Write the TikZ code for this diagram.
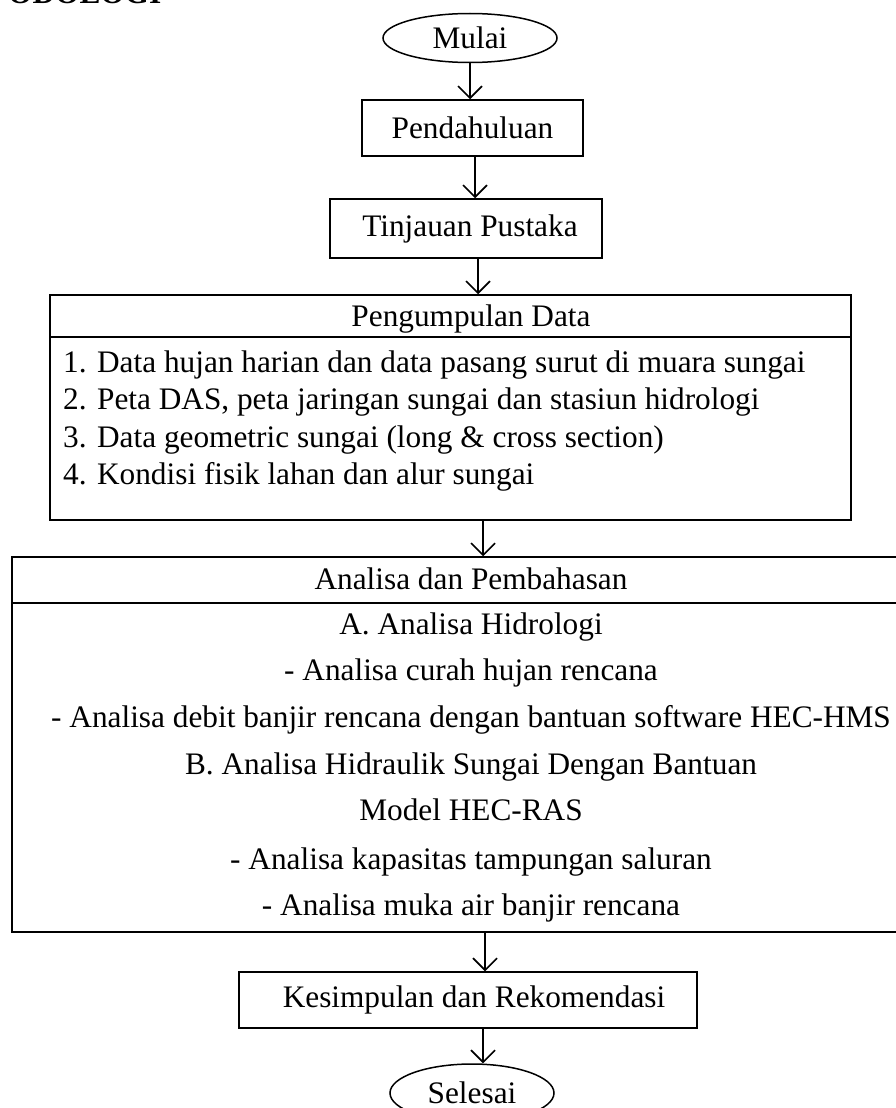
\documentclass[tikz,border=0pt]{standalone}
\usepackage{fontspec}
\setmainfont{Liberation Serif}
\usetikzlibrary{arrows.meta,shapes.geometric}
\begin{document}
\begin{tikzpicture}[x=1pt,y=-1pt,
  every node/.style={font=\fontsize{31.3pt}{37pt}\selectfont, inner sep=0pt},
  box/.style={draw, line width=1.5pt, rectangle},
  oval/.style={draw, line width=1.5pt, ellipse},
  txt/.style={anchor=base},
  item/.style={anchor=base west},
  arr/.style={line width=1.6pt, -{Straight Barb[length=12pt,width=24pt]}},
  rule/.style={line width=1.5pt}]
\clip (0,0) rectangle (896,1108);
\node[font=\bfseries\fontsize{31.3pt}{37pt}\selectfont, anchor=base west] (head) at (8,3.5) {ODOLOGI};

\node[oval, minimum width=174pt, minimum height=49pt] (mulai) at (470,38) {Mulai};
\node[box, minimum width=221pt, minimum height=56pt] (pend) at (472.5,128) {Pendahuluan};
\node[box, minimum width=272pt, minimum height=59pt] (tinj) at (466,228.5) {\hspace*{8pt}Tinjauan Pustaka};

\node[box, minimum width=801pt, minimum height=225pt] (peng) at (450.5,407.5) {};
\draw[rule] (peng.west |- 0,337) -- (peng.east |- 0,337);
\node[txt] (pengh) at (471,326) {Pengumpulan Data};
\node[item] (p1) at (63,372) {1. Data hujan harian dan data pasang surut di muara sungai};
\node[item] (p2) at (63,409) {2. Peta DAS, peta jaringan sungai dan stasiun hidrologi};
\node[item] (p3) at (63,447) {3. Data geometric sungai (long \& cross section)};
\node[item] (p4) at (63,484) {4. Kondisi fisik lahan dan alur sungai};

\node[box, minimum width=918pt, minimum height=375pt] (anal) at (471,744.5) {};
\draw[rule] (anal.west |- 0,603) -- (anal.east |- 0,603);
\node[txt] (analh) at (471,589) {Analisa dan Pembahasan};
\node[txt] (a1) at (471,634) {A. Analisa Hidrologi};
\node[txt] (a2) at (471,680) {- Analisa curah hujan rencana};
\node[txt] (a3) at (471,727) {- Analisa debit banjir rencana dengan bantuan software HEC-HMS};
\node[txt] (a4) at (471,774) {B. Analisa Hidraulik Sungai Dengan Bantuan};
\node[txt] (a5) at (471,820) {Model HEC-RAS};
\node[txt] (a6) at (471,869) {- Analisa kapasitas tampungan saluran};
\node[txt] (a7) at (471,915) {- Analisa muka air banjir rencana};

\node[box, minimum width=458pt, minimum height=56pt] (kes) at (468,1000) {\hspace*{12pt}Kesimpulan dan Rekomendasi};
\node[oval, minimum width=164pt, minimum height=58pt] (sel) at (472,1093) {Selesai};

\draw[arr] (mulai.south) -- (mulai.south |- pend.north);
\draw[arr] ([xshift=2.5pt]pend.south) -- ([xshift=2.5pt]pend.south |- tinj.north);
\draw[arr] ([xshift=12pt]tinj.south) -- ([xshift=12pt]tinj.south |- peng.north);
\draw[arr] ([xshift=32.5pt]peng.south) -- ([xshift=32.5pt]peng.south |- anal.north);
\draw[arr] ([xshift=14pt]anal.south) -- ([xshift=14pt]anal.south |- kes.north);
\draw[arr] ([xshift=15pt]kes.south) -- ([xshift=15pt]kes.south |- sel.north);
\end{tikzpicture}
\end{document}
